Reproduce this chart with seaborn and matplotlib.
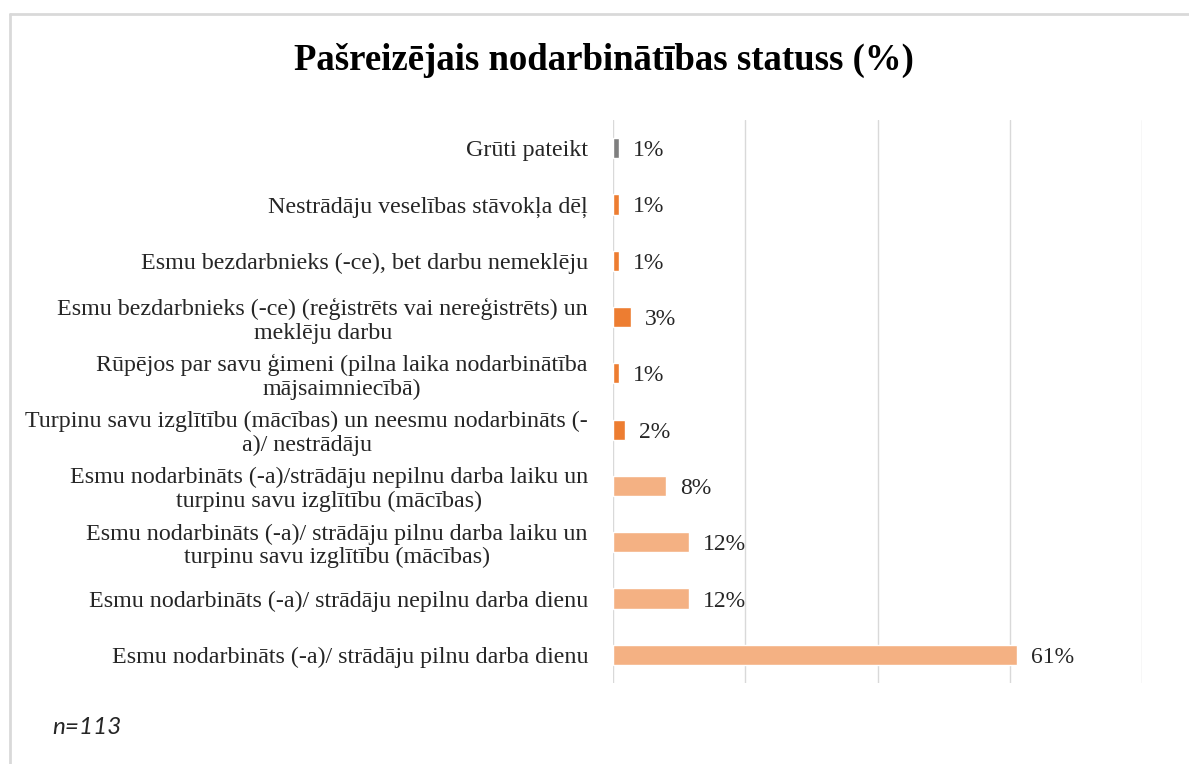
import matplotlib
matplotlib.use("Agg")
import matplotlib.pyplot as plt
from matplotlib.lines import Line2D
import seaborn as sns
import pandas as pd

categories = [
    "Grūti pateikt",
    "Nestrādāju veselības stāvokļa dēļ",
    "Esmu bezdarbnieks (-ce), bet darbu nemeklēju",
    "Esmu bezdarbnieks (-ce) (reģistrēts vai nereģistrēts) un\nmeklēju darbu",
    "Rūpējos par savu ģimeni (pilna laika nodarbinātība\nmājsaimniecībā)",
    "Turpinu savu izglītību (mācības) un neesmu nodarbināts (-\na)/ nestrādāju",
    "Esmu nodarbināts (-a)/strādāju nepilnu darba laiku un\nturpinu savu izglītību (mācības)",
    "Esmu nodarbināts (-a)/ strādāju pilnu darba laiku un\nturpinu savu izglītību (mācības)",
    "Esmu nodarbināts (-a)/ strādāju nepilnu darba dienu",
    "Esmu nodarbināts (-a)/ strādāju pilnu darba dienu",
]
values = [0.9, 0.9, 0.9, 2.7, 0.9, 1.8, 8.0, 11.5, 11.5, 61.1]
value_labels = ["1%", "1%", "1%", "3%", "1%", "2%", "8%", "12%", "12%", "61%"]
groups = ["grey", "dark", "dark", "dark", "dark", "dark", "light", "light", "light", "light"]
group_colors = {"grey": "#7F7F7F", "dark": "#ED7D31", "light": "#F4B183"}
title = "Pašreizējais nodarbinātības statuss (%)"
note = "n=113"

df = pd.DataFrame({"category": categories, "value": values, "group": groups})

sns.set_style("white")
plt.rcParams["font.family"] = ["Liberation Serif", "DejaVu Serif"]

fig = plt.figure(figsize=(11.89, 7.64), dpi=100)
ax = fig.add_axes([613 / 1189, 1 - 683 / 764, 529 / 1189, (683 - 120) / 764])

sns.barplot(data=df, x="value", y="category", hue="group", palette=group_colors,
            orient="h", width=0.36, dodge=False, legend=False, ax=ax, saturation=1)

for cont in ax.containers:
    labs = []
    for b in cont:
        yc = b.get_y() + b.get_height() / 2
        k = int(round(yc))
        labs.append(value_labels[k] if 0 <= k < len(value_labels) and b.get_width() > 0 else "")
    texts = ax.bar_label(cont, labels=labs, padding=10, fontsize=17, color="#262626")
    for t in texts:
        t.set_va("center_baseline")

ax.set_xlim(0, 80)
ax.set_ylim(9.5, -0.5)
ax.set_xticks([0, 20, 40, 60, 80])
ax.set_xticklabels([])
ax.grid(axis="x", color="#D9D9D9", linewidth=1)
ax.grid(axis="y", visible=False)
ax.set_axisbelow(True)
for s in ax.spines.values():
    s.set_visible(False)
ax.set_xlabel("")
ax.set_ylabel("")
ax.tick_params(axis="y", length=0, pad=18, labelsize=17.3, labelcolor="#262626")
ax.tick_params(axis="x", length=0)
for t in ax.get_yticklabels():
    t.set_multialignment("center")
    t.set_linespacing(1.15)

fig.text(604 / 1189, 1 - 60 / 764, title, ha="center", va="center",
         fontsize=26.5, fontweight="bold", color="black")
fig.text(52 / 1189, 1 - 728 / 764, note, ha="left", va="center",
         fontsize=17.5, style="italic", family=["Lato", "DejaVu Sans"], color="#262626")

fig.add_artist(Line2D([10 / 1189, 1], [1 - 14 / 764, 1 - 14 / 764], transform=fig.transFigure,
                      color="#D9D9D9", linewidth=2))
fig.add_artist(Line2D([10 / 1189, 10 / 1189], [1 - 14 / 764, 0], transform=fig.transFigure,
                      color="#D9D9D9", linewidth=2))

fig.savefig("out.png", dpi=100)
